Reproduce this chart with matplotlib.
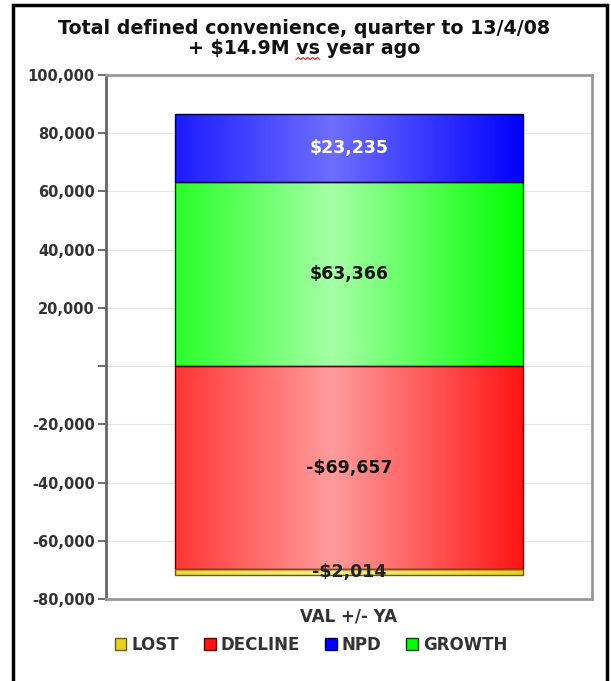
import numpy as np
import matplotlib
matplotlib.use("Agg")
import matplotlib.pyplot as plt
from matplotlib.patches import Patch, Rectangle
from matplotlib.lines import Line2D
from matplotlib.ticker import FuncFormatter

plt.rcParams['font.family'] = ['DejaVu Sans']
plt.rcParams['font.weight'] = 'bold'

category = "VAL +/- YA"
series = ["LOST", "DECLINE", "NPD", "GROWTH"]
values = {"LOST": -2014, "DECLINE": -69657, "NPD": 23235, "GROWTH": 63366}
labels = {"LOST": "-$2,014", "DECLINE": "-$69,657", "NPD": "$23,235", "GROWTH": "$63,366"}
# stacking order from zero outward
pos_order = ["GROWTH", "NPD"]
neg_order = ["DECLINE", "LOST"]
yticks = list(range(-80000, 100001, 20000))
title1 = "Total defined convenience, quarter to 13/4/08"
title2 = "+ $14.9M vs year ago"

base_col = {"LOST": "#e8d21e", "DECLINE": "#ff1414", "NPD": "#0000ff", "GROWTH": "#00ff00"}
light_col = {"LOST": "#f5ee80", "DECLINE": "#ff9c9c", "NPD": "#6e6eff", "GROWTH": "#a6ffa6"}
edge_col = {"LOST": "#6a5a00", "DECLINE": "#600000", "NPD": "#000040", "GROWTH": "#004000"}
text_col = {"LOST": "#222222", "DECLINE": "#111111", "NPD": "white", "GROWTH": "#111111"}

fig = plt.figure(figsize=(6.11, 6.81), dpi=100)
ax = fig.add_axes([106/611, 1-599/681, (592-106)/611, (599-75)/681])


def gradient(name, n=256):
    t = np.linspace(0, 1, n)
    f = np.where(t < 0.45, 0.25 + 0.75 * t / 0.45, 1 - (t - 0.45) / 0.55)
    b = np.array(matplotlib.colors.to_rgb(base_col[name]))
    l = np.array(matplotlib.colors.to_rgb(light_col[name]))
    img = b[None, :] + (l - b)[None, :] * f[:, None]
    return img[None, :, :]


width = 0.718
for order in (pos_order, neg_order):
    bottom = 0
    for name in order:
        v = values[name]
        bar = ax.bar(0, v, width=width, bottom=bottom, color="none",
                     edgecolor=edge_col[name], linewidth=1.0, zorder=3)[0]
        x0, x1 = -width / 2, width / 2
        y0, y1 = sorted([bottom, bottom + v])
        im = ax.imshow(gradient(name), extent=[x0, x1, y0, y1], aspect="auto",
                       zorder=2, interpolation="bilinear")
        im.set_clip_path(bar)
        ax.text(0, bottom + v / 2, labels[name], ha="center", va="center",
                fontsize=12.5, fontweight="bold", color=text_col[name], zorder=4)
        bottom += v

ax.set_xlim(-0.5, 0.5)
ax.set_ylim(-80000, 100000)
ax.set_yticks(yticks)
ax.yaxis.set_major_formatter(FuncFormatter(lambda v, p: "" if v == 0 else f"{int(v):,}"))
ax.set_xticks([0])
ax.set_xticklabels([category])
ax.tick_params(axis="x", length=0, pad=6, labelsize=12, labelcolor="#333333")
ax.tick_params(axis="y", length=6, width=1.2, color="#555555", pad=2,
               labelsize=10.5, labelcolor="#333333")
for lab in ax.get_xticklabels() + ax.get_yticklabels():
    lab.set_fontweight("bold")
ax.grid(axis="y", color="#e6e6e6", linewidth=0.8, zorder=0)
ax.set_axisbelow(True)
ax.spines["left"].set_color("#666666")
ax.spines["left"].set_linewidth(2)
for s in ("top", "right", "bottom"):
    ax.spines[s].set_color("#999999")
    ax.spines[s].set_linewidth(2)

fig.text(304/611, 1-29/681, title1,
         ha="center", va="center", fontsize=13.7, fontweight="bold", color="#111111")
t2 = fig.text(304/611, 1-49/681, title2,
              ha="center", va="center", fontsize=13.7, fontweight="bold", color="#111111")

# spell-check squiggle under "vs", placed from measured text widths
fig.canvas.draw()
renderer = fig.canvas.get_renderer()
bb = t2.get_window_extent(renderer)
idx = title2.index("vs") + 2
tmp = fig.text(0, 0, title2[:idx], fontsize=13.7, fontweight="bold")
end_px = bb.x0 + tmp.get_window_extent(renderer).width
tmp.set_text("vs")
start_px = end_px - tmp.get_window_extent(renderer).width
tmp.remove()
sx = np.linspace(start_px, end_px, 11)
sy = bb.y0 - 1 + np.where(np.arange(11) % 2 == 0, 0, 2)
fig.add_artist(Line2D(sx, sy, transform=None, color="#dd3030", linewidth=0.9))

handles = [Patch(facecolor=base_col[s], edgecolor=edge_col[s], linewidth=1.0, label=s)
           for s in series]
leg = fig.legend(handles=handles, loc="center", bbox_to_anchor=(311/611, 1-645/681),
                 ncol=4, frameon=False, handlelength=0.7, handleheight=0.7,
                 handletextpad=0.3, columnspacing=1.5,
                 prop={"weight": "bold", "size": 12})
for t in leg.get_texts():
    t.set_color("#333333")

fig.patches.append(Rectangle((13/611, -0.05), (607-13)/611, 1-5/681 + 0.05,
                             transform=fig.transFigure, fill=False,
                             edgecolor="black", linewidth=2.5))

fig.savefig("out.png", dpi=100)
